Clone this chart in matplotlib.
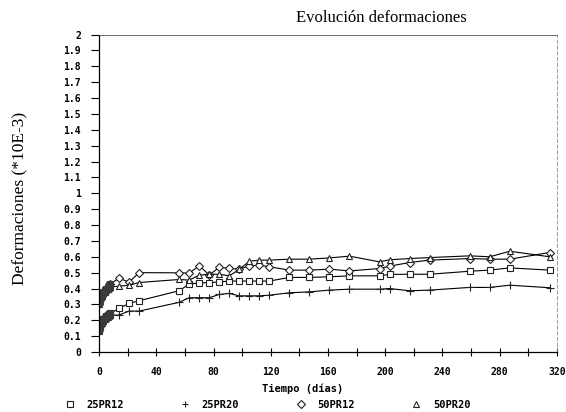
import numpy as np
import matplotlib.pyplot as plt

# time (days) of each reading
dias = [0, 1, 2, 3, 4, 5, 6, 7, 8, 14, 21, 28, 56, 63, 70, 77, 84, 91, 98,
        105, 112, 119, 133, 147, 161, 175, 196, 203, 217, 231, 259, 273, 287, 315]

# deformations (*10E-3)
pr12_25 = [0.14, 0.17, 0.19, 0.205, 0.215, 0.225, 0.232, 0.238, 0.244,
           0.275, 0.306, 0.323, 0.386, 0.428, 0.436, 0.436, 0.442, 0.447, 0.447,
           0.447, 0.447, 0.447, 0.470, 0.470, 0.474, 0.480, 0.480, 0.489,
           0.490, 0.490, 0.509, 0.516, 0.530, 0.516]
pr20_25 = [0.13, 0.16, 0.18, 0.195, 0.205, 0.213, 0.22, 0.226, 0.232,
           0.233, 0.258, 0.258, 0.313, 0.342, 0.342, 0.342, 0.363, 0.369, 0.354,
           0.354, 0.354, 0.358, 0.373, 0.379, 0.390, 0.396, 0.396, 0.400,
           0.386, 0.390, 0.407, 0.407, 0.421, 0.405]
pr12_50 = [0.30, 0.33, 0.355, 0.375, 0.39, 0.40, 0.41, 0.42, 0.43,
           0.465, 0.440, 0.500, 0.499, 0.497, 0.543, 0.486, 0.533, 0.528, 0.522,
           0.543, 0.547, 0.537, 0.516, 0.516, 0.522, 0.511, 0.526, 0.541,
           0.564, 0.579, 0.589, 0.585, 0.585, 0.627]
pr20_50 = [0.31, 0.335, 0.355, 0.37, 0.38, 0.39, 0.40, 0.405, 0.41,
           0.415, 0.420, 0.438, 0.457, 0.453, 0.484, 0.490, 0.490, 0.480, 0.520,
           0.572, 0.579, 0.579, 0.585, 0.585, 0.593, 0.604, 0.568, 0.581,
           0.589, 0.595, 0.606, 0.600, 0.635, 0.600]

n_early = 9  # daily readings of the first week, drawn as a dark cluster

series = [
    ('25PR12', pr12_25, 's', 5),
    ('25PR20', pr20_25, '+', 6),
    ('50PR12', pr12_50, 'D', 4),
    ('50PR20', pr20_50, '^', 5),
]

fig = plt.figure(figsize=(5.66, 4.12), dpi=100)
ax = fig.add_axes([0.175, 0.1456, 0.809, 0.7704])

handles = []
for name, vals, mk, ms in series:
    h, = ax.plot(dias, vals, color='black', lw=0.8, marker=mk, ms=ms,
                 mfc='white', mec='#222222', mew=0.8, label=name)
    handles.append(h)
    ax.plot(dias[:n_early], vals[:n_early], ls='none', marker='s', ms=5,
            mfc='#3a3a3a', mec='#3a3a3a', mew=0.8)

ax.set_xlim(0, 320)
ax.set_ylim(0, 2)
ax.set_xticks(np.arange(0, 321, 40))
ax.set_xticks(np.arange(20, 320, 40), minor=True)
ax.set_yticks(np.arange(0, 2.01, 0.1))
ax.set_yticklabels([('%g' % v) for v in np.arange(0, 2.01, 0.1).round(1)])
for lab in ax.get_xticklabels() + ax.get_yticklabels():
    lab.set_family('DejaVu Sans Mono')
    lab.set_weight('bold')
    lab.set_size(7)
ax.tick_params(axis='x', which='both', direction='inout', length=6, width=0.8, pad=8)
ax.tick_params(axis='y', direction='out', length=6, width=0.8, pad=7)

ax.spines['left'].set_linewidth(0.9)
ax.spines['bottom'].set_linewidth(0.9)
ax.spines['top'].set_linewidth(0.6)
ax.spines['top'].set_color('#555555')
ax.spines['right'].set_linewidth(0.6)
ax.spines['right'].set_color('#888888')
ax.spines['right'].set_linestyle((0, (4, 3)))

fig.text(381 / 566, 1 - 18 / 412, 'Evolución deformaciones', ha='center', va='center',
         family='Liberation Serif', size=12)
fig.text(20 / 566, 1 - 198 / 412, 'Deformaciones (*10E-3)', ha='center', va='center',
         rotation=90, family='Liberation Serif', size=12.5)
fig.text(303 / 566, 1 - 389 / 412, 'Tiempo (días)', ha='center', va='center',
         family='DejaVu Sans Mono', weight='bold', size=7.5)

leg = fig.legend(handles=handles, loc='center', bbox_to_anchor=(268 / 566, 1 - 405 / 412),
                 ncol=4, frameon=False, handlelength=0.8, handletextpad=1.2,
                 columnspacing=5.5, prop=dict(family='DejaVu Sans Mono', weight='bold', size=7.5))
for h in leg.legend_handles:
    h.set_linestyle('none')
    h.set_markersize(4)

fig.savefig('out.png', dpi=100)
